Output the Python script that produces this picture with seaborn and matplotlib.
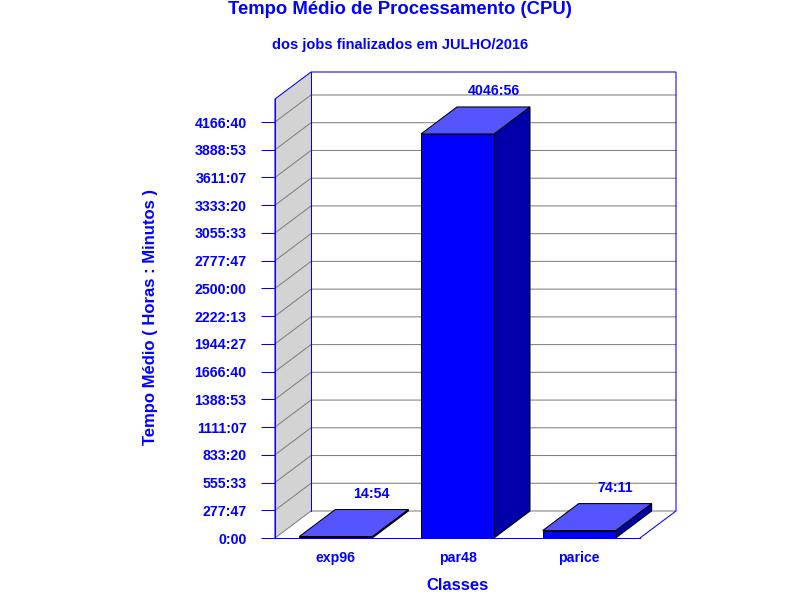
import pandas as pd
import matplotlib
matplotlib.use("Agg")
import matplotlib.pyplot as plt
import seaborn as sns

# dados
classes = ["exp96", "par48", "parice"]
rotulos = ["14:54", "4046:56", "74:11"]
horas = [14 + 54 / 60, 4046 + 56 / 60, 74 + 11 / 60]
ticks_txt = ["0:00", "277:47", "555:33", "833:20", "1111:07", "1388:53", "1666:40",
             "1944:27", "2222:13", "2500:00", "2777:47", "3055:33", "3333:20",
             "3611:07", "3888:53", "4166:40"]
ticks_val = [0, 277.78, 555.56, 833.33, 1111.11, 1388.89, 1666.67, 1944.44,
             2222.22, 2500.0, 2777.78, 3055.56, 3333.33, 3611.11, 3888.89, 4166.67]

AZUL = "#0000FF"
TOPO = "#5555FF"
LADO = "#0000AA"
PAREDE = "#D3D3D3"
GRADE = "#808080"
LW = 0.75
FS = 10.2

sns.set_theme(style="white")
plt.rcParams["font.family"] = ["Liberation Sans", "DejaVu Sans"]
plt.rcParams["font.weight"] = "bold"

fig = plt.figure(figsize=(8, 6), dpi=100)
# area frontal do grafico em pixels: x 275-640, y 99-538
ax = fig.add_axes([275 / 800, (600 - 538) / 600, 365 / 800, 439 / 600])
ax.patch.set_alpha(0)

df = pd.DataFrame({"classe": classes, "horas": horas})
sns.barplot(data=df, x="classe", y="horas", color=AZUL, saturation=1, width=0.6,
            edgecolor="black", linewidth=LW, ax=ax, zorder=5)

ax.set_xlim(-0.5, 2.5)
ymax = 439 * ticks_val[-1] / 416
ax.set_ylim(0, ymax)

# profundidade do efeito 3D, convertida de pixels para unidades de dados
dx = 36 * 3 / 365
dy = 27 * ymax / 439
x0, x1 = -0.5, 2.5

# parede lateral
ax.fill([x0, x0 + dx, x0 + dx, x0], [0, dy, ymax + dy, ymax], color=PAREDE, lw=0,
        clip_on=False, zorder=1)

# grade
for v in ticks_val:
    ax.plot([x0, x0 + dx, x1 + dx], [v, v + dy, v + dy], color=GRADE, lw=LW,
            clip_on=False, zorder=2, solid_joinstyle="miter")

# contorno azul
ax.plot([x0, x0, x0 + dx, x1 + dx, x1 + dx, x1], [0, ymax, ymax + dy, ymax + dy, dy, 0],
        color=AZUL, lw=LW, clip_on=False, zorder=3)
ax.plot([x0 + dx, x0 + dx], [dy, ymax + dy], color=AZUL, lw=LW, clip_on=False, zorder=3)

# faces de cima e do lado de cada barra
for bar, txt in zip(ax.patches, rotulos):
    xa = bar.get_x()
    xb = xa + bar.get_width()
    h = bar.get_height()
    ax.fill([xb, xb + dx, xb + dx, xb], [0, dy, h + dy, h], facecolor=LADO,
            edgecolor="black", lw=LW, clip_on=False, zorder=4)
    ax.fill([xa, xb, xb + dx, xa + dx], [h, h, h + dy, h + dy], facecolor=TOPO,
            edgecolor="black", lw=LW, clip_on=False, zorder=6)
    ax.annotate(txt, xy=(xb + dx - bar.get_width() / 2, h + dy), xytext=(0, 16),
                textcoords="offset pixels", ha="center", va="center", color=AZUL,
                fontsize=FS, fontweight="bold", zorder=7, annotation_clip=False)

sns.despine(ax=ax, top=True, right=True)
for lado in ["left", "bottom"]:
    ax.spines[lado].set_color(AZUL)
    ax.spines[lado].set_linewidth(LW)
    ax.spines[lado].set_zorder(3)

ax.set_yticks(ticks_val)
ax.set_yticklabels(ticks_txt, color=AZUL, fontsize=FS, fontweight="bold", va="center_baseline")
ax.tick_params(axis="y", left=True, length=10, width=LW, color=AZUL, pad=10.5)
ax.tick_params(axis="x", bottom=False, pad=3.4, labelsize=FS, labelcolor=AZUL)

ax.set_xlabel("Classes", color=AZUL, fontsize=12, fontweight="bold")
ax.xaxis.set_label_coords(0.5, -47 / 439)
ax.xaxis.label.set_va("center")
ax.set_ylabel("Tempo Médio ( Horas : Minutos )", color=AZUL, fontsize=12, fontweight="bold")
ax.yaxis.set_label_coords(-125 / 365, (538 - 317) / 439)
ax.yaxis.label.set_va("center")

fig.text(0.5, 1 - 9 / 600, "Tempo Médio de Processamento (CPU)", ha="center", va="center",
         color=AZUL, fontsize=13.3, fontweight="bold")
fig.text(0.5, 1 - 44.5 / 600, "dos jobs finalizados em JULHO/2016", ha="center", va="center",
         color=AZUL, fontsize=10.5, fontweight="bold")

fig.savefig("out.png", dpi=100, facecolor="white")
